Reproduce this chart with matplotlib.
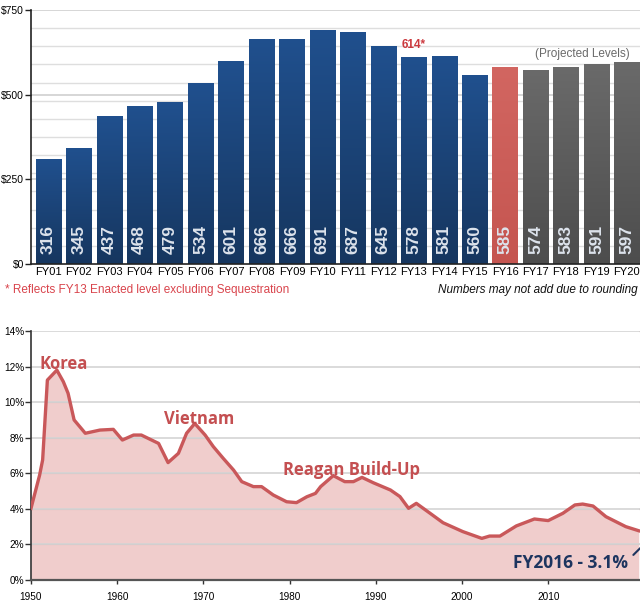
import matplotlib
matplotlib.use("Agg")
import matplotlib.pyplot as plt
import numpy as np

# ---------------- data ----------------
fiscal_years = ["FY01", "FY02", "FY03", "FY04", "FY05", "FY06", "FY07", "FY08", "FY09", "FY10",
                "FY11", "FY12", "FY13", "FY14", "FY15", "FY16", "FY17", "FY18", "FY19", "FY20"]
bar_labels = [316, 345, 437, 468, 479, 534, 601, 666, 666, 691,
              687, 645, 578, 581, 560, 585, 574, 583, 591, 597]
bar_heights = [310, 343, 436, 467, 477, 533, 600, 665, 665, 690,
               686, 643, 612, 615, 558, 583, 573, 581, 590, 595]
bar_kind = ["actual"] * 15 + ["request"] + ["projected"] * 4

years = [1950, 1951, 1951.35, 1951.9, 1953.0, 1953.75, 1954.3, 1955.0, 1956.3, 1958.0,
         1959.55, 1960.6, 1961.9, 1962.8, 1964.8, 1965.9, 1967.1, 1968.05, 1969.0, 1970.2,
         1971.15, 1972.3, 1973.5, 1974.45, 1975.8, 1976.75, 1978.1, 1979.65, 1980.8, 1982.0,
         1983.0, 1983.6, 1985.07, 1986.4, 1987.4, 1988.4, 1989.7, 1991.7, 1992.8, 1993.8,
         1994.7, 1996.3, 1997.8, 2000.1, 2002.3, 2003.2, 2004.4, 2006.3, 2008.4, 2010.0,
         2011.7, 2013.1, 2014.0, 2015.2, 2016.7, 2019.0, 2020.5]
pct_gdp = [4.03, 5.9, 6.75, 11.24, 11.8, 11.15, 10.5, 9.0, 8.25, 8.43,
           8.47, 7.87, 8.15, 8.15, 7.68, 6.6, 7.12, 8.25, 8.8, 8.15,
           7.5, 6.84, 6.18, 5.53, 5.25, 5.25, 4.78, 4.4, 4.35, 4.68,
           4.87, 5.25, 5.87, 5.53, 5.53, 5.77, 5.47, 5.06, 4.69, 4.03,
           4.31, 3.75, 3.22, 2.72, 2.34, 2.47, 2.47, 3.04, 3.43, 3.34,
           3.75, 4.22, 4.27, 4.16, 3.56, 3.0, 2.77]

colors = {"actual": "#1c4681", "request": "#cc5a55", "projected": "#5e5e5e"}
SANS = ["Liberation Sans", "DejaVu Sans"]
BOLD = ["Open Sans", "DejaVu Sans"]

fig = plt.figure(figsize=(6.4, 6.14), dpi=100)
W, H = 640, 614

# ---------------- top bar chart ----------------
ax1 = fig.add_axes([31 / W, (H - 264) / H, 609 / W, 254 / H])
x = np.arange(len(fiscal_years))
for gy in np.arange(1, 14) * 750 / 14:
    ax1.axhline(gy, color="#dedede", lw=1.0, zorder=0)
for gy in [250, 500, 750]:
    ax1.axhline(gy, color="#cfcfcf", lw=1.2, zorder=0)

bar_cols = [colors[k] for k in bar_kind]
bars = ax1.bar(x, bar_heights, width=0.83, color=bar_cols, zorder=2)
grad = np.linspace(0, 1, 256).reshape(-1, 1)
cmaps = {
    "actual": matplotlib.colors.LinearSegmentedColormap.from_list("ga", ["#16365f", "#20508e"]),
    "projected": matplotlib.colors.LinearSegmentedColormap.from_list("gp", ["#4d4d4d", "#6a6a6a"]),
    "request": matplotlib.colors.LinearSegmentedColormap.from_list("gr", ["#c55550", "#d26661"]),
}
for b, k in zip(bars, bar_kind):
    im = ax1.imshow(grad, cmap=cmaps[k], aspect="auto", origin="lower",
                    extent=[b.get_x(), b.get_x() + b.get_width(), 0, b.get_height()], zorder=2.5)
    im.set_clip_path(b)
ax1.set_xlim(-0.568, 19.43)
ax1.set_ylim(0, 750)

for xi, lab in zip(x, bar_labels):
    ax1.text(xi, 30, str(lab), rotation=90, ha="center", va="bottom",
             color="#dde3ec", fontsize=12.5, fontweight="bold", family=SANS, zorder=3)

ax1.text(12, 646, "614*", ha="center", va="center", color="#cc3a3f",
         fontsize=8.5, fontweight="bold", family=SANS)
ax1.text(17.55, 621, "(Projected Levels)", ha="center", va="center", color="#6a6a6a",
         fontsize=8.5, family=SANS)

ax1.set_yticks([0, 250, 500, 750])
ax1.set_yticklabels(["$0", "$250", "$500", "$750"], family=SANS, fontsize=7.5)
ax1.set_xticks(x)
ax1.set_xticklabels(fiscal_years, family=SANS, fontsize=8)
ax1.tick_params(axis="x", length=0, pad=2)
ax1.tick_params(axis="y", length=4, width=1, pad=1, color="#222")
for s in ["top", "right"]:
    ax1.spines[s].set_visible(False)
ax1.spines["left"].set_color("#222")
ax1.spines["left"].set_linewidth(1.2)
ax1.spines["bottom"].set_color("#222")
ax1.spines["bottom"].set_linewidth(1.2)

fig.text(5 / W, (H - 290) / H, "* Reflects FY13 Enacted level excluding Sequestration",
         color="#d9444c", fontsize=8.5, family=SANS, va="center", ha="left")
fig.text(638 / W, (H - 290) / H, "Numbers may not add due to rounding",
         color="#111", fontsize=8.5, family=SANS, style="italic", va="center", ha="right")

# ---------------- bottom area chart ----------------
ax2 = fig.add_axes([31 / W, (H - 580) / H, 609 / W, 249 / H])
ax2.set_xlim(1950, 2020.65)
ax2.set_ylim(0, 14)
for gy in range(2, 15, 2):
    ax2.axhline(gy, color="#d4d4d4", lw=1.2, zorder=0)
ax2.fill_between(years, pct_gdp, 0, color="#f0cdcc", zorder=1, lw=0)
for gy in range(2, 15, 2):
    ax2.axhline(gy, color="#d3b3b3", lw=0.8, zorder=1.5)
ax2.fill_between(years, pct_gdp, 15, color="white", zorder=1.6, lw=0)
for gy in range(2, 15, 2):
    ax2.axhline(gy, color="#d4d4d4", lw=1.2, zorder=1.7)
ax2.plot(years, pct_gdp, color="#c9585a", lw=2.4, zorder=3, solid_joinstyle="round")

ax2.set_yticks(range(0, 15, 2))
ax2.set_yticklabels([f"{v}%" for v in range(0, 15, 2)], family=SANS, fontsize=7.2)
ax2.set_xticks(range(1950, 2020, 10))
ax2.set_xticklabels([str(v) for v in range(1950, 2020, 10)], family=SANS, fontsize=7.2)
ax2.tick_params(axis="y", length=4, width=1, pad=1, color="#333")
ax2.tick_params(axis="x", length=3, width=1, pad=6, color="#333")
for s in ["top", "right"]:
    ax2.spines[s].set_visible(False)
ax2.spines["left"].set_color("#333")
ax2.spines["left"].set_linewidth(1.2)
ax2.spines["bottom"].set_color("#555")
ax2.spines["bottom"].set_linewidth(1.6)

red_txt = "#c44f51"
ax2.text(1951.0, 12.15, "Korea", color=red_txt, fontsize=12, fontweight="bold",
         family=BOLD, va="center", ha="left")
ax2.text(1965.4, 9.05, "Vietnam", color=red_txt, fontsize=12, fontweight="bold",
         family=BOLD, va="center", ha="left")
ax2.text(1979.2, 6.2, "Reagan Build-Up", color=red_txt, fontsize=12, fontweight="bold",
         family=BOLD, va="center", ha="left")
ax2.text(2012.6, 0.95, "FY2016 - 3.1%", color="#1d355f", fontsize=12.5, fontweight="bold",
         family=BOLD, va="center", ha="center")
ax2.annotate("", xy=(2020.9, 1.9), xytext=(2019.65, 1.3),
             arrowprops=dict(arrowstyle="-", color="#1d355f", lw=1.5),
             annotation_clip=False)

fig.savefig("out.png", dpi=100)
